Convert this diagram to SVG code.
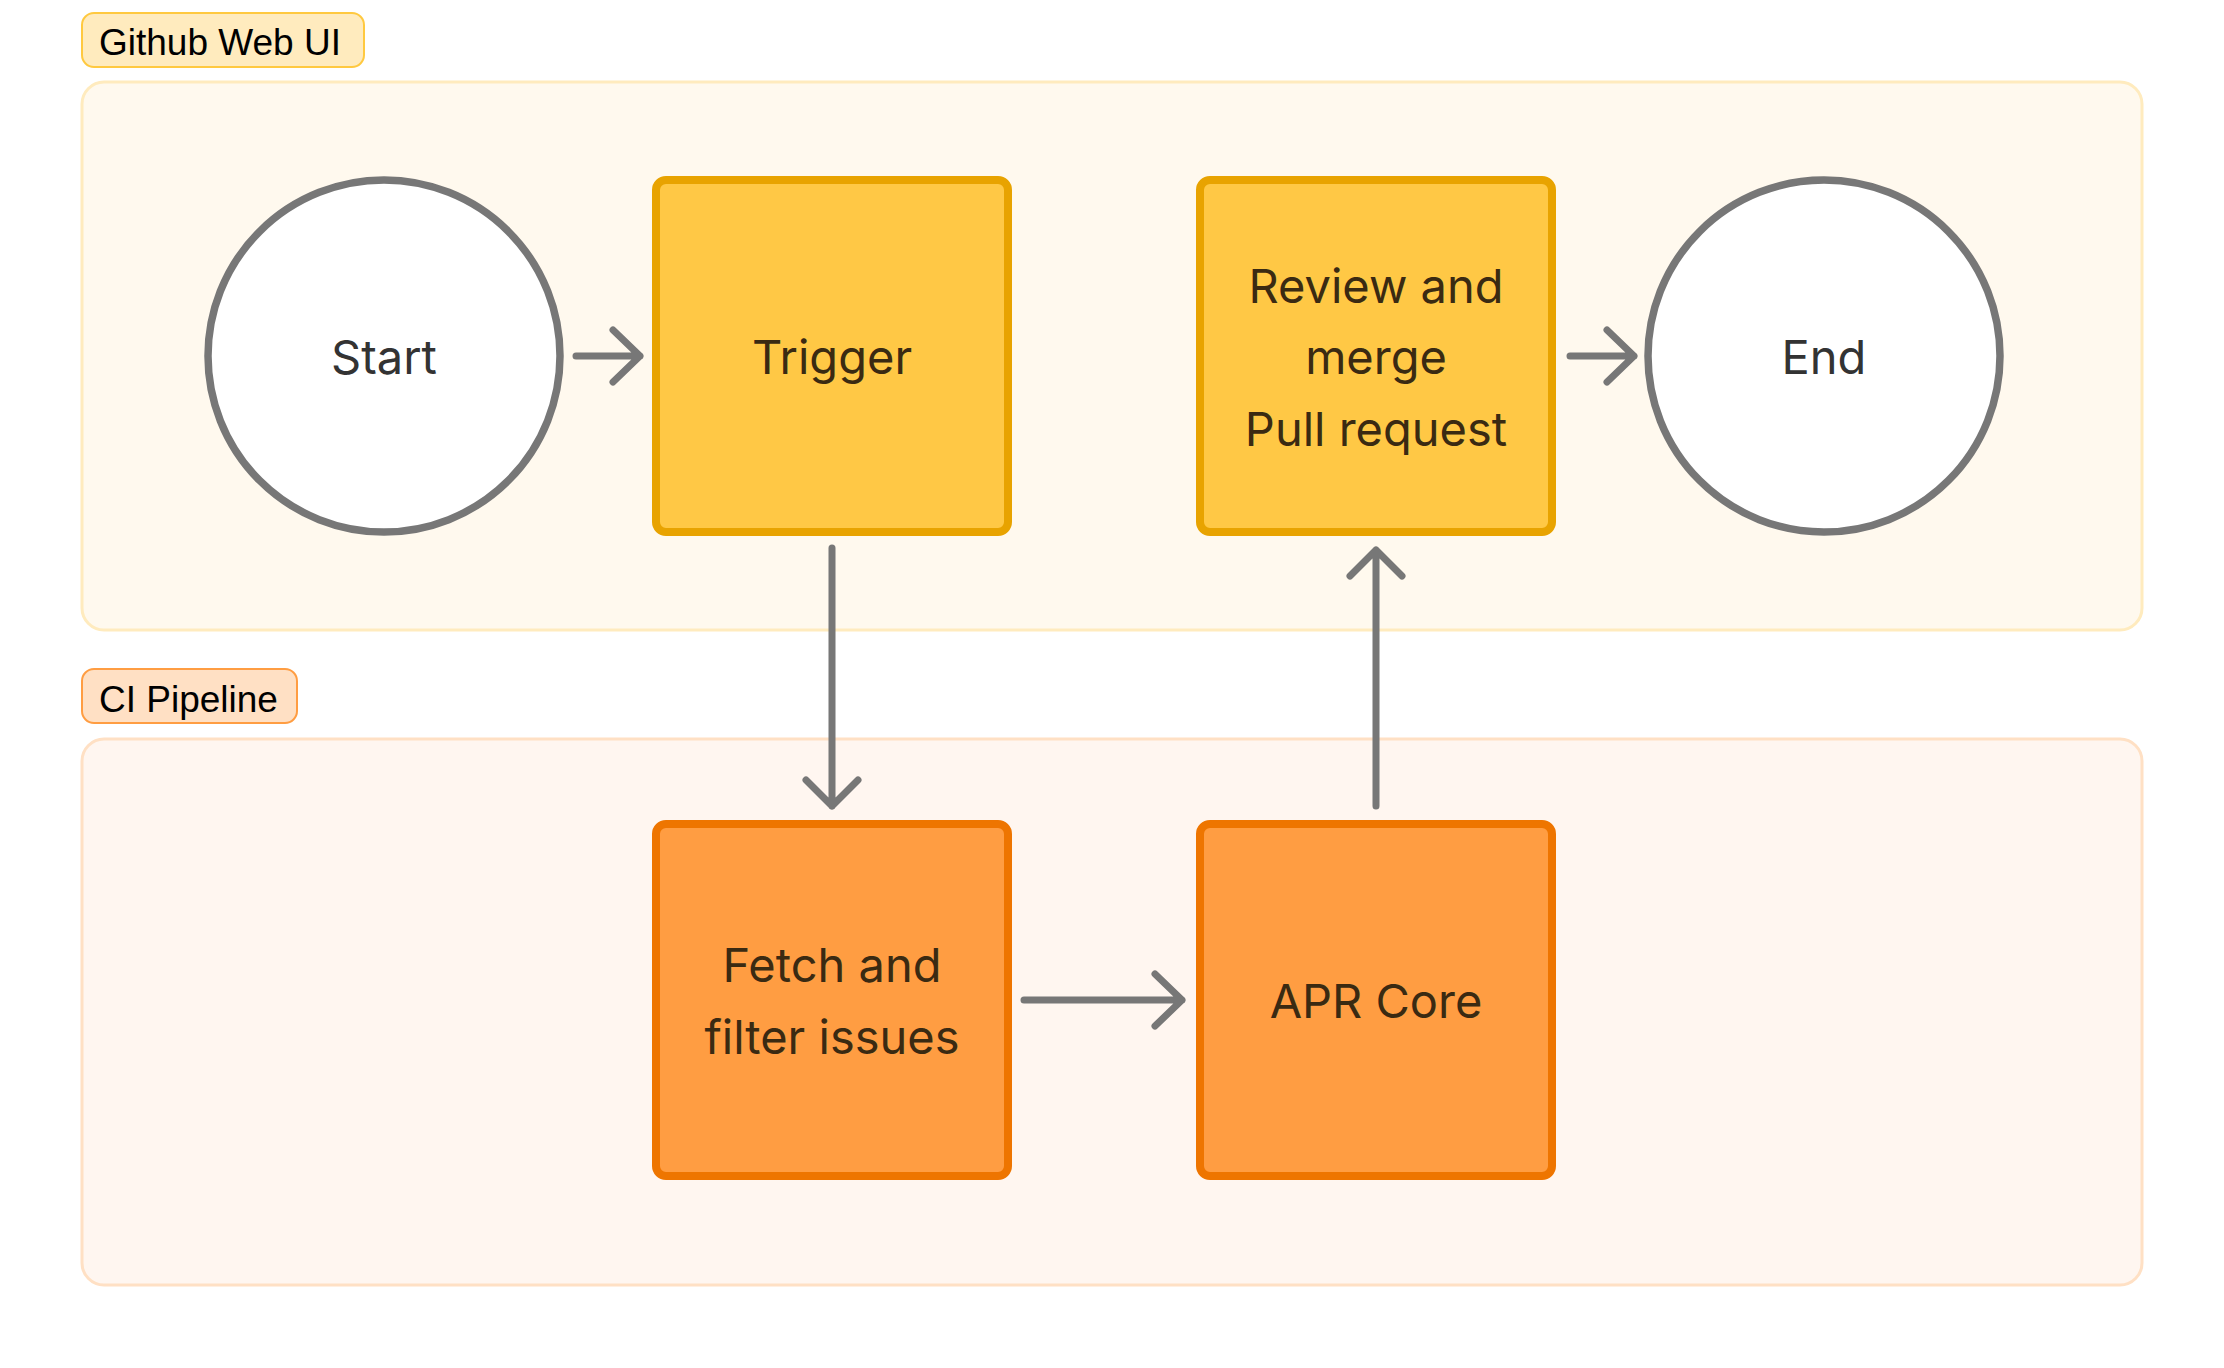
<svg xmlns="http://www.w3.org/2000/svg" width="2224" height="1368" viewBox="0 0 2224 1368">
<style>
.lane-y{fill:#FFF9EE;stroke:#FFEBBE;stroke-width:3}
.lane-o{fill:#FFF6F0;stroke:#FFE0C4;stroke-width:3}
.lbl-y{fill:#FFEBBE;stroke:#FFC940;stroke-width:2}
.lbl-o{fill:#FFE0C4;stroke:#FF9D42;stroke-width:2}
.lbltxt{font-family:"Liberation Sans",Arial,sans-serif;font-size:37px;fill:#000}
.circ{fill:#FFFFFF;stroke:#777777;stroke-width:7.5}
.box-y{fill:#FFC845;stroke:#E8A300;stroke-width:8}
.box-o{fill:#FF9D42;stroke:#EE7500;stroke-width:8}
.t{font-family:Inter,"Noto Sans",sans-serif;font-size:47px;text-anchor:middle;dominant-baseline:central}
.tc{fill:#333333}
.tb{fill:#3A2A12}
.edge{fill:none;stroke:#777777;stroke-width:7;stroke-linecap:round;stroke-linejoin:round}
</style>
<rect width="2224" height="1368" fill="#FFFFFF"/>
<g id="lane-github">
<rect class="lane-y" x="82" y="82" width="2060" height="548" rx="22"/>
<rect class="lbl-y" x="82" y="13" width="282" height="54" rx="12"/>
<text class="lbltxt" x="99" y="55">Github Web UI</text>
</g>
<g id="lane-ci">
<rect class="lane-o" x="82" y="739" width="2060" height="546" rx="22"/>
<rect class="lbl-o" x="82" y="669" width="215" height="54" rx="12"/>
<text class="lbltxt" x="99" y="712">CI Pipeline</text>
</g>
<g id="edges">
<path class="edge" d="M576 356 H640 M613 330 L640 356 L613 382"/>
<path class="edge" d="M832 548 V806 M806 780 L832 806 L858 780"/>
<path class="edge" d="M1024 1000 H1182 M1155 974 L1182 1000 L1155 1026"/>
<path class="edge" d="M1376 806 V550 M1350 576 L1376 550 L1402 576"/>
<path class="edge" d="M1570 356 H1634 M1607 330 L1634 356 L1607 382"/>
</g>
<g id="start">
<circle class="circ" cx="384" cy="356" r="176"/>
<text class="t tc" x="384" y="356">Start</text>
</g>
<g id="trigger">
<rect class="box-y" x="656" y="180" width="352" height="352" rx="10"/>
<text class="t tb" x="832" y="356">Trigger</text>
</g>
<g id="review">
<rect class="box-y" x="1200" y="180" width="352" height="352" rx="10"/>
<text class="t tb" x="1376" y="285">Review and</text>
<text class="t tb" x="1376" y="356">merge</text>
<text class="t tb" x="1376" y="428">Pull request</text>
</g>
<g id="end">
<circle class="circ" cx="1824" cy="356" r="176"/>
<text class="t tc" x="1824" y="356">End</text>
</g>
<g id="fetch">
<rect class="box-o" x="656" y="824" width="352" height="352" rx="10"/>
<text class="t tb" x="832" y="964">Fetch and</text>
<text class="t tb" x="832" y="1036">filter issues</text>
</g>
<g id="apr">
<rect class="box-o" x="1200" y="824" width="352" height="352" rx="10"/>
<text class="t tb" x="1376" y="1000">APR Core</text>
</g>
</svg>
